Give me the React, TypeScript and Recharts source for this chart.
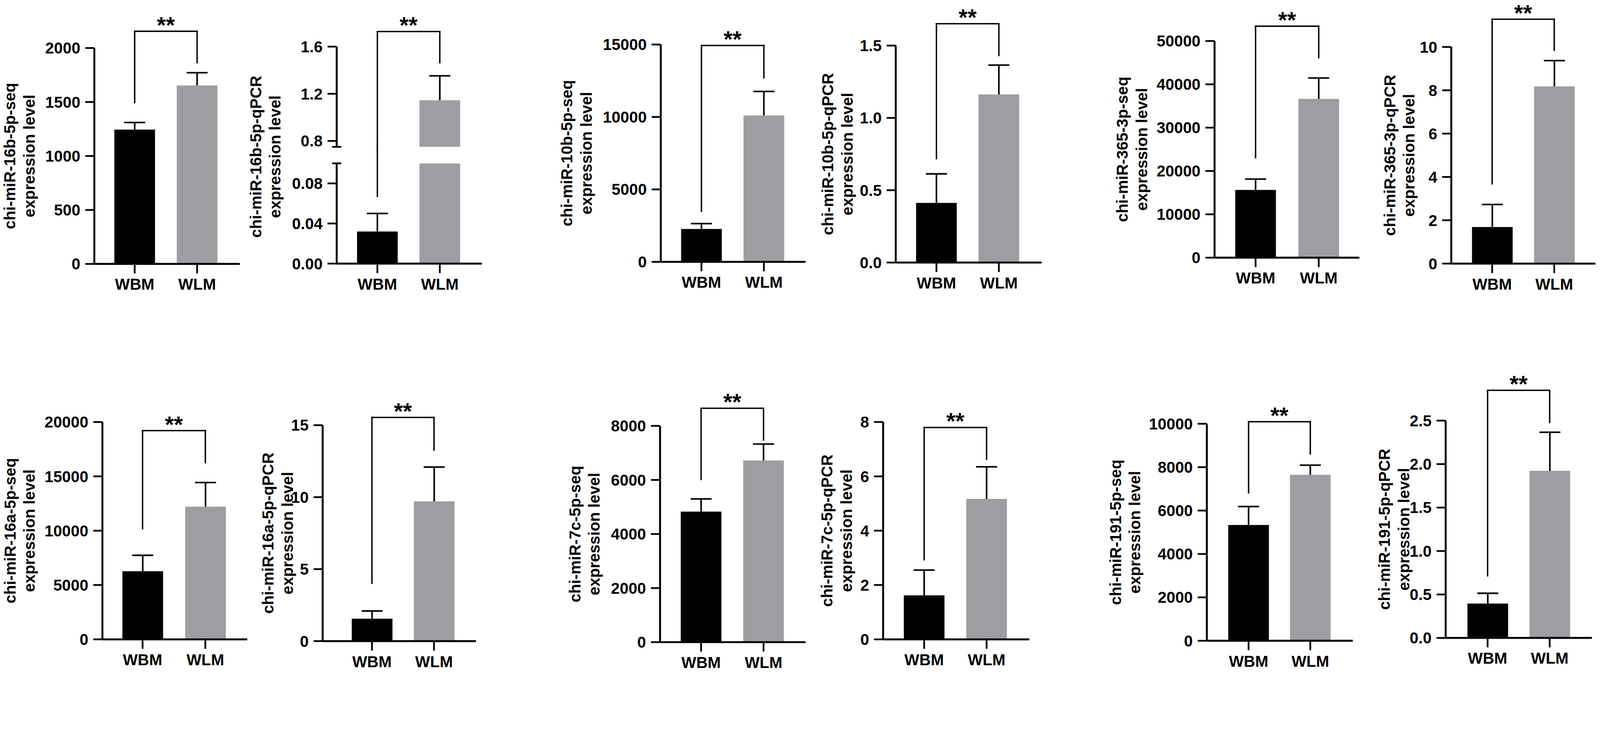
import React from 'react';
import { BarChart, Bar, XAxis, YAxis, ReferenceLine, Cell } from 'recharts';

// groups on every x axis
const groups = ['WBM', 'WLM'];

const mirnaTitles = [
  'chi-miR-16b-5p-seq',
  'chi-miR-16b-5p-qPCR',
  'chi-miR-10b-5p-seq',
  'chi-miR-10b-5p-qPCR',
  'chi-miR-365-3p-seq',
  'chi-miR-365-3p-qPCR',
  'chi-miR-16a-5p-seq',
  'chi-miR-16a-5p-qPCR',
  'chi-miR-7c-5p-seq',
  'chi-miR-7c-5p-qPCR',
  'chi-miR-191-5p-seq',
  'chi-miR-191-5p-qPCR',
];

// bar heights [WBM, WLM]
const meanLevels = [
  [1244, 1653],
  [0.032, 1.145],
  [2270, 10105],
  [0.412, 1.162],
  [15630, 36650],
  [1.69, 8.18],
  [6264, 12208],
  [1.56, 9.71],
  [4829, 6721],
  [1.62, 5.17],
  [5335, 7649],
  [0.396, 1.922],
];

// upper error bars [WBM, WLM]
const semLevels = [
  [66, 118],
  [0.018, 0.207],
  [368, 1654],
  [0.201, 0.203],
  [2500, 4810],
  [1.04, 1.19],
  [1472, 2226],
  [0.53, 2.38],
  [469, 605],
  [0.93, 1.18],
  [850, 444],
  [0.118, 0.444],
];

const yTickValues = [
  [0, 500, 1000, 1500, 2000],
  [0, 0.04, 0.08, 0.8, 1.2, 1.6],
  [0, 5000, 10000, 15000],
  [0, 0.5, 1.0, 1.5],
  [0, 10000, 20000, 30000, 40000, 50000],
  [0, 2, 4, 6, 8, 10],
  [0, 5000, 10000, 15000, 20000],
  [0, 5, 10, 15],
  [0, 2000, 4000, 6000, 8000],
  [0, 2, 4, 6, 8],
  [0, 2000, 4000, 6000, 8000, 10000],
  [0, 0.5, 1.0, 1.5, 2.0, 2.5],
];
const tickDigits = [0, 2, 0, 1, 0, 0, 0, 0, 0, 0, 0, 1];

// broken axis of the second panel: lower part ends at 0.1, upper starts at 0.75
const brokenGap = [0.1, 0.75];

// significance brackets: [top, left leg end, right leg end]
const brackets = [
  [2155, 1495, 1865],
  [1.728, 0.067, 1.464],
  [14934, 3491, 12703],
  [1.651, 0.718, 1.432],
  [53415, 23074, 46147],
  [11.28, 3.68, 9.85],
  [19208, 10189, 16264],
  [15.54, 4.02, 13.27],
  [8651, 6017, 7478],
  [7.8, 2.93, 6.63],
  [10094, 6818, 8612],
  [2.849, 0.715, 2.479],
];
// left leg of the broken panel, split between its two parts
const brokenLeftLeg = [
  [0.067, 0.12],
  [0.7, 1.728],
];

const FONT = '"Liberation Sans", Arial, Helvetica, sans-serif';
const INK = '#000000';
const GREY = '#9e9da2';
const barFills = [INK, GREY];
const TICK_LEN = 26;
const TICK_GAP = 14;
const rowTops = [0, 960];
const PAGE_W = 4562;
const PAGE_H = 1916;

// pixel layout of each panel
const layout = [
  { row: 0, titleX: 44, axisX: 269, xEnd: 684, c1: 384, c2: 562, yTop: 137, y0: 753 },
  { row: 0, titleX: 745, axisX: 960, xEnd: 1374, c1: 1076, c2: 1254, yTop: 133, y0: 752, upperBottom: 419, lowerTop: 466, titleY: 447 },
  { row: 0, titleX: 1632, axisX: 1884, xEnd: 2297, c1: 2000, c2: 2178, yTop: 127, y0: 747 },
  { row: 0, titleX: 2376, axisX: 2554, xEnd: 2970, c1: 2670, c2: 2848, yTop: 130, y0: 749 },
  { row: 0, titleX: 3216, axisX: 3463, xEnd: 3876, c1: 3580, c2: 3760, yTop: 117, y0: 735 },
  { row: 0, titleX: 3978, axisX: 4138, xEnd: 4549, c1: 4254, c2: 4431, yTop: 134, y0: 752 },
  { row: 1, titleX: 44, axisX: 292, xEnd: 705, c1: 406, c2: 585, yTop: 1204, y0: 1824 },
  { row: 1, titleX: 780, axisX: 920, xEnd: 1357, c1: 1060, c2: 1237, yTop: 1213, y0: 1829 },
  { row: 1, titleX: 1655, axisX: 1882, xEnd: 2297, c1: 1999, c2: 2177, yTop: 1215, y0: 1832 },
  { row: 1, titleX: 2374, axisX: 2518, xEnd: 2935, c1: 2635, c2: 2813, yTop: 1204, y0: 1824 },
  { row: 1, titleX: 3196, axisX: 3441, xEnd: 3857, c1: 3560, c2: 3736, yTop: 1209, y0: 1828 },
  { row: 1, titleX: 3963, axisX: 4122, xEnd: 4539, c1: 4241, c2: 4418, yTop: 1200, y0: 1820 },
];

const axisStyle = { stroke: INK, strokeWidth: 5.5 };
const tickStyle = { stroke: INK, strokeWidth: 5 };
const tickText = { fontSize: 45, fontWeight: 700, fill: INK, fontFamily: FONT };
const lineStyle = { stroke: INK, strokeWidth: 4, strokeLinecap: 'square' as const };

const rowsFor = (i: number) =>
  groups.map((group, k) => ({ group, mean: meanLevels[i][k], sem: semLevels[i][k] }));

const padFor = (L: any) => {
  const bw = L.c2 - L.c1;
  const left = Math.round(L.c1 - L.axisX - bw / 2);
  return { left, right: Math.round(L.xEnd - L.axisX - left - 2 * bw) };
};

// one-sided error bar drawn on top of the stacked mean bar
const ErrorCap = (props: any) => {
  const { x, y, width, height } = props;
  // segments squeezed to nothing by a broken axis are skipped
  if (x == null || y == null || !height || Math.abs(height) < 0.5) return null;
  const cx = x + width / 2;
  return (
    <g>
      <line x1={cx} x2={cx} y1={y + height} y2={y} stroke={INK} strokeWidth={4.5} />
      <line x1={cx - 30} x2={cx + 30} y1={y} y2={y} stroke={INK} strokeWidth={4.5} />
    </g>
  );
};

// y tick for the broken axis: the break value only gets a short cross mark
const BrokenTick = (props: any) => {
  const { x, y, payload, breakAt, digits } = props;
  const ax = x + TICK_LEN + TICK_GAP;
  if (Math.abs(payload.value - breakAt) < 1e-9) {
    return <line x1={ax - 13} x2={ax + 13} y1={y} y2={y} stroke={INK} strokeWidth={5} />;
  }
  return (
    <g>
      <line x1={ax - TICK_LEN} x2={ax} y1={y} y2={y} stroke={INK} strokeWidth={5} />
      <text x={x} y={y} dy="0.355em" textAnchor="end" {...tickText}>
        {payload.value.toFixed(digits)}
      </text>
    </g>
  );
};

const titleLabel = (text: string, cy: number) => ({
  content: () => (
    <text
      transform={`rotate(-90, 45, ${cy})`}
      textAnchor="middle"
      fontFamily={FONT}
      fontWeight={700}
      fontSize={45}
      fill={INK}
    >
      <tspan x={45} y={cy}>{text}</tspan>
      <tspan x={45} y={cy + 55}>expression level</tspan>
    </text>
  ),
});

const stars = {
  value: '**',
  position: 'top' as const,
  offset: -5,
  fontSize: 66,
  fontWeight: 700,
  fill: INK,
  fontFamily: FONT,
};

const bracketTop = (top: number, rightEnd: number) => [
  <ReferenceLine
    key="h"
    segment={[{ x: 'WBM', y: top }, { x: 'WLM', y: top }]}
    ifOverflow="visible"
    {...lineStyle}
    label={stars}
  />,
  <ReferenceLine
    key="r"
    segment={[{ x: 'WLM', y: rightEnd }, { x: 'WLM', y: top }]}
    ifOverflow="visible"
    {...lineStyle}
  />,
];

const leftLeg = (from: number, to: number) => (
  <ReferenceLine
    key="l"
    segment={[{ x: 'WBM', y: from }, { x: 'WBM', y: to }]}
    ifOverflow="visible"
    {...lineStyle}
  />
);

const bars = () => [
  <Bar key="mean" dataKey="mean" stackId="m" isAnimationActive={false}>
    {groups.map((g, k) => (
      <Cell key={g} fill={barFills[k]} />
    ))}
  </Bar>,
  <Bar key="sem" dataKey="sem" stackId="m" fill="none" shape={ErrorCap} isAnimationActive={false} />,
];

function Panel({ i }: { i: number }) {
  const L = layout[i];
  const top = rowTops[L.row];
  const left = L.titleX - 45;
  const width = L.xEnd - left + 20;
  const height = L.y0 - top + 110;
  const ticks = yTickValues[i];
  const [bTop, bLeft, bRight] = brackets[i];
  return (
    <div style={{ position: 'absolute', left, top }}>
      <BarChart
        width={width}
        height={height}
        data={rowsFor(i)}
        barSize={116}
        margin={{ top: L.yTop - top, right: 20, bottom: 10, left: 0 }}
      >
        <XAxis
          dataKey="group"
          height={100}
          padding={padFor(L)}
          axisLine={axisStyle}
          tickLine={tickStyle}
          tickSize={27}
          tickMargin={15}
          tick={tickText}
          interval={0}
        />
        <YAxis
          width={L.axisX - left}
          type="number"
          domain={[0, ticks[ticks.length - 1]]}
          ticks={ticks}
          interval={0}
          tickFormatter={(v: number) => v.toFixed(tickDigits[i])}
          axisLine={axisStyle}
          tickLine={tickStyle}
          tickSize={TICK_LEN}
          tickMargin={TICK_GAP}
          tick={tickText}
          label={titleLabel(mirnaTitles[i], (L.yTop + L.y0) / 2 - top)}
        />
        {bars()}
        {bracketTop(bTop, bRight)}
        {leftLeg(bLeft, bTop)}
      </BarChart>
    </div>
  );
}

function BrokenPanel({ i }: { i: number }) {
  const L = layout[i];
  const left = L.titleX - 45;
  const width = L.xEnd - left + 20;
  const ticks = yTickValues[i];
  const lowerTicks = [...ticks.filter((v) => v < brokenGap[0]), brokenGap[0]];
  const upperTicks = [brokenGap[1], ...ticks.filter((v) => v > brokenGap[1])];
  const [bTop, , bRight] = brackets[i];
  const upperHeight = L.upperBottom + 61;
  return (
    <>
      <div style={{ position: 'absolute', left, top: 0 }}>
        <BarChart
          width={width}
          height={L.y0 + 110}
          data={rowsFor(i)}
          barSize={116}
          margin={{ top: L.lowerTop, right: 20, bottom: 10, left: 0 }}
        >
          <XAxis
            dataKey="group"
            height={100}
            padding={padFor(L)}
            axisLine={axisStyle}
            tickLine={tickStyle}
            tickSize={27}
            tickMargin={15}
            tick={tickText}
            interval={0}
          />
          <YAxis
            width={L.axisX - left}
            type="number"
            domain={[0, brokenGap[0]]}
            allowDataOverflow
            ticks={lowerTicks}
            interval={0}
            axisLine={axisStyle}
            tickLine={false}
            tickSize={TICK_LEN}
            tickMargin={TICK_GAP}
            tick={<BrokenTick breakAt={brokenGap[0]} digits={2} />}
            label={titleLabel(mirnaTitles[i], L.titleY)}
          />
          {bars()}
          {leftLeg(brokenLeftLeg[0][0], brokenLeftLeg[0][1])}
        </BarChart>
      </div>
      <div style={{ position: 'absolute', left, top: 0 }}>
        <BarChart
          width={width}
          height={upperHeight}
          data={rowsFor(i)}
          barSize={116}
          margin={{ top: L.yTop, right: 20, bottom: upperHeight - L.upperBottom, left: 0 }}
        >
          <XAxis dataKey="group" hide padding={padFor(L)} />
          <YAxis
            width={L.axisX - left}
            type="number"
            domain={[brokenGap[1], ticks[ticks.length - 1]]}
            allowDataOverflow
            ticks={upperTicks}
            interval={0}
            axisLine={axisStyle}
            tickLine={false}
            tickSize={TICK_LEN}
            tickMargin={TICK_GAP}
            tick={<BrokenTick breakAt={brokenGap[1]} digits={1} />}
          />
          {bars()}
          {bracketTop(bTop, bRight)}
          {leftLeg(brokenLeftLeg[1][0], brokenLeftLeg[1][1])}
        </BarChart>
      </div>
    </>
  );
}

export default function App() {
  // the layout is drawn in reference pixels and scaled to the real viewport width
  const vw = typeof document !== 'undefined' ? document.documentElement.clientWidth : PAGE_W;
  const s = vw > 0 ? Math.min(1, vw / PAGE_W) : 1;
  return (
    <div
      style={{
        position: 'absolute',
        left: 0,
        top: 0,
        width: PAGE_W * s,
        height: PAGE_H * s,
        overflow: 'hidden',
        background: '#ffffff',
      }}
    >
      <div
        style={{
          position: 'absolute',
          left: 0,
          top: 0,
          width: PAGE_W,
          height: PAGE_H,
          transform: `scale(${s})`,
          transformOrigin: '0 0',
        }}
      >
        {layout.map((_, i) => (i === 1 ? <BrokenPanel key={i} i={i} /> : <Panel key={i} i={i} />))}
      </div>
    </div>
  );
}
